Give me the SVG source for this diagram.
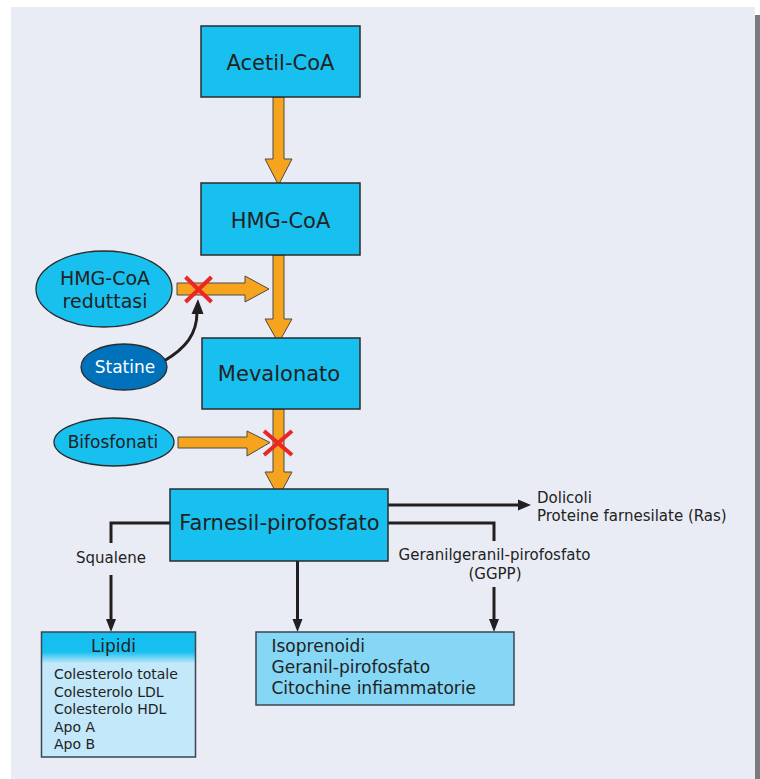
<svg xmlns="http://www.w3.org/2000/svg" width="760" height="779" viewBox="0 0 760 779">
<defs>
<style>
.box{fill:#18C0F0;stroke:#2B2B2B;stroke-width:1.5}
.ell{fill:#18C0F0;stroke:#2B2B2B;stroke-width:1.3}
.big{font-family:"DejaVu Sans",Verdana,sans-serif;font-size:21px;fill:#222;text-anchor:middle}
.mid{font-family:"DejaVu Sans",Verdana,sans-serif;font-size:19px;fill:#222;text-anchor:middle}
.lab{font-family:"DejaVu Sans",Verdana,sans-serif;font-size:15px;fill:#222}
.lst{font-family:"DejaVu Sans",Verdana,sans-serif;font-size:14px;fill:#222}
.iso{font-family:"DejaVu Sans",Verdana,sans-serif;font-size:17px;fill:#222}
.oa{fill:#F6A31E;stroke:#4A4A4A;stroke-width:1}
.ln{fill:none;stroke:#231F20;stroke-width:3}
.hd{fill:#231F20}
.x{stroke:#EE2525;stroke-width:4;stroke-linecap:butt}
</style>
<linearGradient id="lipHead" x1="0" y1="0" x2="0" y2="1">
<stop offset="0" stop-color="#14BEF0"/>
<stop offset="0.16" stop-color="#18C0F0"/>
<stop offset="0.25" stop-color="#C3E8F9"/>
<stop offset="1" stop-color="#C3E8F9"/>
</linearGradient>
</defs>
<rect x="0" y="0" width="760" height="779" fill="#FFFFFF"/>
<rect x="11" y="7" width="744" height="772" fill="#E9ECF4"/>
<rect x="755" y="15" width="5" height="764" fill="#7A7A80"/>

<g id="connectors">
<polygon class="oa" points="273,97 284,97 284,159 292,159 278.5,185 265,159 273,159"/>
<polygon class="oa" points="273,255 284,255 284,319 292,319 278.5,343 265,319 273,319"/>
<polygon class="oa" points="273,409 284,409 284,472 292,472 278.5,497 265,472 273,472"/>
<polygon class="oa" points="177,283 245,283 245,276 269,289 245,302 245,295 177,295"/>
<polygon class="oa" points="178,437 247,437 247,431 270,442.5 247,456 247,448 178,448"/>
<path class="x" d="M185.5,277 L211.5,302 M211.5,277 L185.5,302"/>
<path class="x" d="M264,431 L292,455 M292,431 L264,455"/>
<path class="ln" d="M164,361 C186,348 197,334 197,312" stroke-width="3.5"/>
<polygon class="hd" points="198,299 191.5,314 203.5,314"/>
<path class="ln" d="M388,505 L520,505"/>
<polygon class="hd" points="531,505 518,499.5 518,510.5"/>
<path class="ln" d="M170,523 L111,523 L111,543"/>
<path class="ln" d="M111,575 L111,620"/>
<polygon class="hd" points="111,632 106,619 116,619"/>
<path class="ln" d="M297.5,561 L297.5,620"/>
<polygon class="hd" points="297.5,632 292.5,619 302.5,619"/>
<path class="ln" d="M388,523 L494,523 L494,541"/>
<path class="ln" d="M494,587 L494,620"/>
<polygon class="hd" points="494,632 489,619 499,619"/>
</g>

<g id="acetil">
<rect class="box" x="201" y="26" width="159" height="71"/>
<text class="big" x="280.5" y="70">Acetil-CoA</text>
</g>
<g id="hmgcoa">
<rect class="box" x="201" y="183" width="159" height="72"/>
<text class="big" x="280.5" y="228">HMG-CoA</text>
</g>
<g id="mevalonato">
<rect class="box" x="202" y="338" width="158" height="71"/>
<text class="big" x="279" y="380.5">Mevalonato</text>
</g>
<g id="farnesil">
<rect class="box" x="170" y="489" width="218" height="72"/>
<text class="big" x="279.5" y="530">Farnesil-pirofosfato</text>
</g>
<g id="reduttasi">
<ellipse class="ell" cx="104" cy="289" rx="68" ry="38"/>
<text class="mid" x="105" y="285">HMG-CoA</text>
<text class="mid" x="105" y="308">reduttasi</text>
</g>
<g id="statine">
<ellipse cx="124" cy="367" rx="43" ry="23" fill="#0072BC" stroke="#2B2B2B" stroke-width="1.3"/>
<text x="125" y="373" font-family="DejaVu Sans,Verdana,sans-serif" font-size="17" fill="#FFFFFF" text-anchor="middle">Statine</text>
</g>
<g id="bifosfonati">
<ellipse class="ell" cx="114" cy="442" rx="60" ry="24"/>
<text x="113" y="448" font-family="DejaVu Sans,Verdana,sans-serif" font-size="17" fill="#222" text-anchor="middle">Bifosfonati</text>
</g>
<g id="labels">
<text class="lab" x="537" y="503">Dolicoli</text>
<text class="lab" x="537" y="521">Proteine farnesilate (Ras)</text>
<text class="lab" x="111" y="563" text-anchor="middle">Squalene</text>
<text class="lab" x="494.5" y="560" text-anchor="middle">Geranilgeranil-pirofosfato</text>
<text class="lab" x="495" y="579" text-anchor="middle">(GGPP)</text>
</g>
<g id="lipidi">
<rect x="41.5" y="632" width="154" height="125" fill="url(#lipHead)" stroke="#3A4650" stroke-width="1.5"/>
<text class="iso" x="113.5" y="652" text-anchor="middle">Lipidi</text>
<text class="lst" x="54" y="679">Colesterolo totale</text>
<text class="lst" x="54" y="696.5">Colesterolo LDL</text>
<text class="lst" x="54" y="714">Colesterolo HDL</text>
<text class="lst" x="54" y="731.5">Apo A</text>
<text class="lst" x="54" y="749">Apo B</text>
</g>
<g id="isoprenoidi">
<rect x="256" y="632" width="258" height="73" fill="#86D6F5" stroke="#3A4650" stroke-width="1.5"/>
<text class="iso" x="271.5" y="652">Isoprenoidi</text>
<text class="iso" x="271.5" y="673">Geranil-pirofosfato</text>
<text class="iso" x="271.5" y="694">Citochine infiammatorie</text>
</g>
</svg>
